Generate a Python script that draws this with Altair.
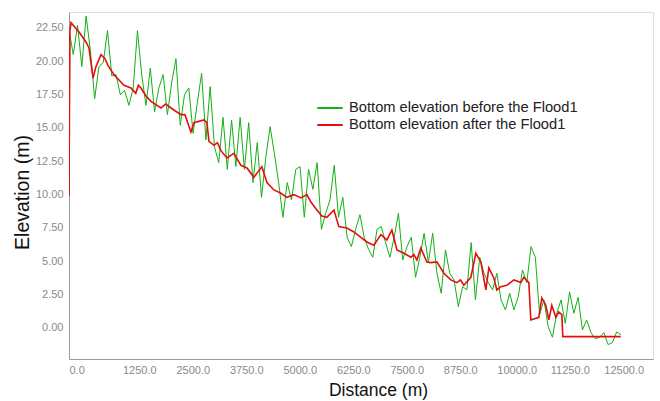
import altair as alt
import pandas as pd

# ---- Data ----
series_names = ["Bottom elevation before the Flood1", "Bottom elevation after the Flood1"]

# Green survey: first points at 0 and 20 m, then every 100 m
before_dist = [0, 20] + list(range(100, 13000, 100))
before_elev = [
    9.9, 22.0,
    20.5, 22.7, 19.6, 23.4, 20.8, 17.2, 19.6, 19.9, 22.3, 18.9,
    19.0, 17.5, 17.8, 16.7, 18.0, 22.3, 19.0, 16.7, 19.5, 16.2,
    18.0, 19.0, 16.0, 18.4, 20.2, 15.2, 17.5, 18.0, 14.6, 16.9,
    19.1, 14.1, 18.1, 13.6, 12.4, 15.8, 11.9, 15.6, 12.1, 15.8,
    11.9, 15.4, 10.9, 13.9, 9.8, 12.8, 15.1, 13.1, 10.9, 8.3,
    10.9, 9.6, 11.9, 12.1, 8.3, 11.9, 10.4, 12.4, 7.4, 8.6,
    9.6, 12.2, 8.3, 9.8, 6.8, 6.1, 7.4, 8.5, 6.8, 5.9,
    5.3, 7.4, 7.6, 6.4, 5.3, 6.8, 8.6, 5.1, 6.1, 6.8,
    3.8, 5.3, 7.1, 4.9, 7.1, 4.1, 2.6, 5.85, 4.1, 3.6,
    1.6, 3.1, 2.85, 6.4, 2.1, 5.3, 4.1, 3.4, 2.85, 4.1,
    2.1, 1.35, 2.6, 1.35, 2.35, 4.35, 3.4, 6.1, 5.3, 1.0,
    2.1, 0.1, -0.7, 1.1, 2.1, 0.35, 2.7, 1.1, 2.3, -0.15,
    0.6, -0.35, -0.8, -0.7, -0.35, -1.25, -1.1, -0.3, -0.5,
]
before_dist = before_dist[:len(before_elev)]

after_dist = [
    0, 20, 47, 234, 397, 467, 561, 630, 748, 841, 911, 1051, 1168, 1285,
    1449, 1560, 1620, 1682, 1799, 1916, 2150, 2260, 2383, 2617, 2710, 2850,
    2921, 3154, 3224, 3271, 3388, 3470, 3551, 3692, 3855, 4019, 4159, 4322,
    4439, 4509, 4626, 4790, 4953, 5093, 5257, 5421, 5561, 5654, 5794, 5910,
    6028, 6192, 6308, 6495, 6659, 6822, 6963, 7126, 7290, 7430, 7547, 7664,
    7827, 7991, 8060, 8131, 8224, 8364, 8458, 8598, 8762, 8925, 9065, 9150,
    9229, 9393, 9509, 9626, 9743, 9813, 9930, 10000, 10093, 10234, 10397,
    10561, 10631, 10748, 10794, 10981, 11051, 11145, 11215, 11285, 11379,
    11449, 11519, 11542, 12897,
]
after_elev = [
    9.9, 22.2, 22.9, 22.2, 21.45, 21.0, 18.75, 19.6, 20.5, 20.2, 19.7, 19.0,
    18.6, 18.2,
    18.0, 17.6, 18.2, 18.0, 17.4, 17.0, 16.5, 16.8, 16.5, 16.0, 16.0, 14.7,
    15.4, 15.6, 15.4, 14.0, 13.7, 13.9, 13.3, 12.75, 13.1, 12.2, 12.0, 11.3,
    11.8, 12.1, 10.9, 10.35, 10.1, 9.8, 10.0, 9.75, 10.0, 9.45, 8.85, 8.4,
    8.3, 8.85, 7.6, 7.5, 7.2, 6.8, 6.45, 6.2, 7.0, 6.6, 7.35, 5.85,
    5.6, 5.3, 5.5, 5.1, 6.0, 4.95, 4.9, 4.95, 4.1, 3.6, 3.4, 3.6,
    3.2, 3.8, 5.6, 4.95, 2.85, 4.5, 3.75, 2.85, 3.1, 3.2, 3.6,
    3.4, 3.8, 3.4, 0.6, 0.8, 2.25, 1.7, 0.6, 1.7, 0.8,
    1.2, 1.0, -0.65, -0.65,
]

y_ticks = [0, 2.5, 5, 7.5, 10, 12.5, 15, 17.5, 20, 22.5]
x_ticks = [0, 1250, 2500, 3750, 5000, 6250, 7500, 8750, 10000, 11250, 12500]

df_before = pd.DataFrame({"Distance": before_dist, "Elevation": before_elev, "Series": series_names[0]})
df_after = pd.DataFrame({"Distance": after_dist, "Elevation": after_elev, "Series": series_names[1]})

FONT = "Liberation Sans"

color = alt.Color(
    "Series:N",
    scale=alt.Scale(domain=series_names, range=["#14b014", "#e50d0d"]),
    legend=alt.Legend(
        title=None, orient="none", legendX=247, legendY=88,
        symbolType="stroke", symbolSize=650, symbolStrokeWidth=2,
        labelFont=FONT, labelFontSize=14.7, labelColor="#222222", labelLimit=0,
        labelOffset=5, rowPadding=1, clipHeight=16, padding=0,
    ),
)

x = alt.X(
    "Distance:Q",
    scale=alt.Scale(domain=[0, 13650], nice=False, zero=False),
    axis=alt.Axis(
        title="Distance (m)", values=x_ticks, format=".1f", grid=False, ticks=False,
        labelAlign="left", labelColor="#8a8a8a", labelFont=FONT, labelFontSize=11,
        labelPadding=5, domainColor="#9a9a9a", titleFont=FONT, titleFontSize=17.5,
        titleFontWeight="normal", titleColor="#111111", titlePadding=6, labelFlush=False,
        titleX=309,
    ),
)
y = alt.Y(
    "Elevation:Q",
    scale=alt.Scale(domain=[-2.33, 23.7], nice=False, zero=False),
    axis=alt.Axis(
        title="Elevation (m)", values=y_ticks, format=".2f", grid=False, ticks=False,
        labelColor="#8a8a8a", labelFont=FONT, labelFontSize=11, labelPadding=6,
        domainColor="#9a9a9a", titleFont=FONT, titleFontSize=19.5,
        titleFontWeight="normal", titleColor="#111111", titlePadding=3,
        titleY=180,
    ),
)

before = alt.Chart(df_before).mark_line(strokeWidth=1, clip=True).encode(x=x, y=y, color=color)
after = alt.Chart(df_after).mark_line(strokeWidth=1.6, clip=True).encode(x=x, y=y, color=color)

chart = alt.layer(before, after).properties(
    width=584, height=347,
    autosize=alt.AutoSizeParams(type="none"),
    padding={"left": 69, "top": 12, "right": 7, "bottom": 42},
).configure_view(stroke=None).configure(background="white")

chart.save("out.html", embed_options={"renderer": "svg", "actions": False})
